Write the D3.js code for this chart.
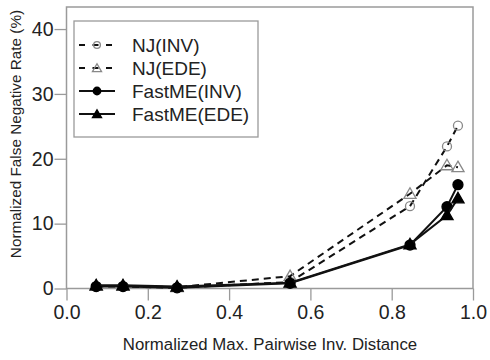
<!DOCTYPE html>
<html><head><meta charset="utf-8">
<script src="https://cdn.jsdelivr.net/npm/d3@7"></script>
<style>body{margin:0;background:#fff}svg{display:block}text{font-family:"Liberation Sans",Arial,sans-serif;fill:#222}</style>
</head><body>
<script>
const xValues = [0.073, 0.139, 0.272, 0.550, 0.845, 0.936, 0.963];
const njInv = [0.3, 0.3, 0.1, 1.0, 12.7, 21.9, 25.1];
const njEde = [0.4, 0.4, 0.2, 1.9, 14.6, 19.0, 18.7];
const fmInv = [0.3, 0.3, 0.1, 0.8, 6.7, 12.6, 16.0];
const fmEde = [0.5, 0.5, 0.3, 0.9, 6.8, 11.3, 13.9];
const seriesNames = ["NJ(INV)", "NJ(EDE)", "FastME(INV)", "FastME(EDE)"];
const xTicks = [0, 0.2, 0.4, 0.6, 0.8, 1.0];
const yTicks = [0, 10, 20, 30, 40];
const xTitle = "Normalized Max. Pairwise Inv. Distance";
const yTitle = "Normalized False Negative Rate (%)";

const W = 490, H = 360;
const svg = d3.select("body").append("svg").attr("width", W).attr("height", H);
const x = d3.scaleLinear().domain([0, 1]).range([66.5, 473]);
const y = d3.scaleLinear().domain([0, 43.4]).range([288.5, 7]);

const frameCol = "#9a9a9a";
svg.append("rect").attr("x", 66.5).attr("y", 7).attr("width", 473 - 66.5).attr("height", 288.5 - 7)
  .attr("fill", "none").attr("stroke", frameCol).attr("stroke-width", 1.5);

const xAxis = svg.append("g").attr("transform", "translate(0,288.5)")
  .call(d3.axisBottom(x).tickValues(xTicks).tickFormat(d3.format(".1f")).tickSize(12).tickPadding(5));
const yAxis = svg.append("g").attr("transform", "translate(66.5,0)")
  .call(d3.axisLeft(y).tickValues(yTicks).tickFormat(d3.format("d")).tickSize(12).tickPadding(1));
[xAxis, yAxis].forEach(g => {
  g.select(".domain").remove();
  g.selectAll(".tick line").attr("stroke", frameCol).attr("stroke-width", 1.3);
  g.selectAll(".tick text").attr("fill", "#222").style("font-family", "Liberation Sans, Arial, sans-serif").style("font-size", "19.5px");
});

svg.append("text").attr("x", 270).attr("y", 350).attr("text-anchor", "middle")
  .style("font-size", "16.8px").text(xTitle);
svg.append("text").attr("transform", "translate(21,134) rotate(-90)").attr("text-anchor", "middle")
  .style("font-size", "15.3px").text(yTitle);

const series = [
  {name: seriesNames[0], vals: njInv, dash: "7,5", shape: "circle", fill: "none", mcol: "#888"},
  {name: seriesNames[1], vals: njEde, dash: "7,5", shape: "triangle", fill: "none", mcol: "#888"},
  {name: seriesNames[2], vals: fmInv, dash: null, shape: "circle", fill: "#000", mcol: "#000"},
  {name: seriesNames[3], vals: fmEde, dash: null, shape: "triangle", fill: "#000", mcol: "#000"}
];
const line = d3.line().x(d => x(d[0])).y(d => y(d[1]));

function marker(g, s, cx, cy, scale) {
  const k = scale || 1;
  if (s.shape === "circle") {
    g.append("circle").attr("cx", cx).attr("cy", cy).attr("r", (s.fill === "none" ? 4.5 : 5) * k)
      .attr("fill", s.fill === "none" ? "none" : s.fill).attr("stroke", s.mcol).attr("stroke-width", 1.3);
  } else {
    const sym = d3.symbol().type(d3.symbolTriangle).size(64 * k * k);
    g.append("path").attr("d", sym()).attr("transform", `translate(${cx},${cy + 1})`)
      .attr("fill", s.fill === "none" ? "none" : s.fill).attr("stroke", s.mcol).attr("stroke-width", 1.3);
  }
}

series.forEach(s => {
  const pts = xValues.map((v, i) => [v, s.vals[i]]);
  svg.append("path").datum(pts).attr("d", line).attr("fill", "none").attr("stroke", "#111")
    .attr("stroke-width", 2).attr("stroke-dasharray", s.dash);
  const g = svg.append("g");
  pts.forEach(p => marker(g, s, x(p[0]), y(p[1])));
});

const lg = svg.append("g");
lg.append("rect").attr("x", 74).attr("y", 21).attr("width", 184).attr("height", 116)
  .attr("fill", "#fff").attr("stroke", frameCol).attr("stroke-width", 1.3);
series.forEach((s, i) => {
  const cy = 45 + i * 23;
  lg.append("line").attr("x1", 79).attr("x2", 115).attr("y1", cy).attr("y2", cy)
    .attr("stroke", "#111").attr("stroke-width", 2).attr("stroke-dasharray", s.dash ? "6,7.5" : null);
  marker(lg, s, 97, cy, 0.75);
  lg.append("text").attr("x", 132).attr("y", cy + 7).style("font-size", "19px").text(s.name);
});
</script>
</body></html>
